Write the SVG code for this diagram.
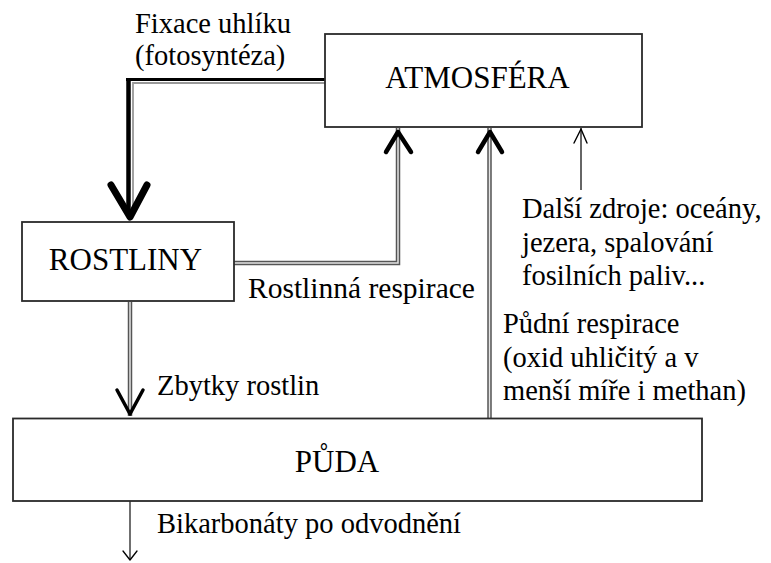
<svg xmlns="http://www.w3.org/2000/svg" width="771" height="563" viewBox="0 0 771 563">
<style>
text{font-family:"Liberation Serif",serif;fill:#000}
.nt{font-size:31px;text-anchor:middle}
.lb{font-size:28.5px}
.box{fill:#fff;stroke:#2a2a2a;stroke-width:1.8}
.dblo{fill:none;stroke:#555;stroke-width:4.5}
.dbli{fill:none;stroke:#e4e4e4;stroke-width:1.5}
.head{fill:none;stroke:#000;stroke-linecap:round;stroke-linejoin:round}
</style>
<rect width="771" height="563" fill="#fff"/>
<g id="connectors">
  <path d="M325,83 H133 V212" fill="none" stroke="#999" stroke-width="1.8"/>
  <path d="M325,79.5 H126" fill="none" stroke="#000" stroke-width="3"/>
  <path d="M128.5,78 V214" fill="none" stroke="#000" stroke-width="4.5"/>
  <polyline class="head" points="111,185 130,217 147,185" stroke-width="7"/>
  <path class="dblo" d="M233,263 H398 V128"/>
  <path class="dbli" d="M233,263 H398 V128"/>
  <polyline class="head" points="386,152 398,132 411,152" stroke-width="4.5"/>
  <path class="dblo" d="M130,302 V416"/>
  <path class="dbli" d="M130,302 V414"/>
  <polyline class="head" points="117,390 130,414 143,390" stroke-width="3.5"/>
  <path class="dblo" d="M489.5,419 V128"/>
  <path class="dbli" d="M489.5,419 V128"/>
  <polyline class="head" points="478,152 490,132 502,152" stroke-width="4.5"/>
  <path d="M581,190 V128" fill="none" stroke="#333" stroke-width="1.5"/>
  <polyline class="head" points="574,143 581,129 587,143" stroke-width="1.4" stroke="#222"/>
  <path d="M130,501 V560" fill="none" stroke="#333" stroke-width="1.4"/>
  <polyline class="head" points="123,551 130,560 137,551" stroke-width="1.3" stroke="#222"/>
</g>
<g id="atmosfera">
  <rect class="box" x="325" y="34" width="317" height="93"/>
  <text class="nt" x="477.5" y="88">ATMOSFÉRA</text>
</g>
<g id="rostliny">
  <rect class="box" x="22" y="222" width="212" height="79"/>
  <text class="nt" x="125.5" y="270">ROSTLINY</text>
</g>
<g id="puda">
  <rect class="box" x="13" y="418.5" width="689" height="82.5"/>
  <text class="nt" x="337" y="472">PŮDA</text>
</g>
<g id="labels">
  <text class="lb" x="135" y="33">Fixace uhlíku</text>
  <text class="lb" x="135" y="65">(fotosyntéza)</text>
  <text class="lb" x="248" y="298" style="font-size:29.5px">Rostlinná respirace</text>
  <text class="lb" x="522" y="218">Další zdroje: oceány,</text>
  <text class="lb" x="522" y="252">jezera, spalování</text>
  <text class="lb" x="522" y="285">fosilních paliv...</text>
  <text class="lb" x="503" y="333">Půdní respirace</text>
  <text class="lb" x="503" y="367">(oxid uhličitý a v</text>
  <text class="lb" x="503" y="400">menší míře i methan)</text>
  <text class="lb" x="157" y="395">Zbytky rostlin</text>
  <text class="lb" x="157" y="533">Bikarbonáty po odvodnění</text>
</g>
</svg>
